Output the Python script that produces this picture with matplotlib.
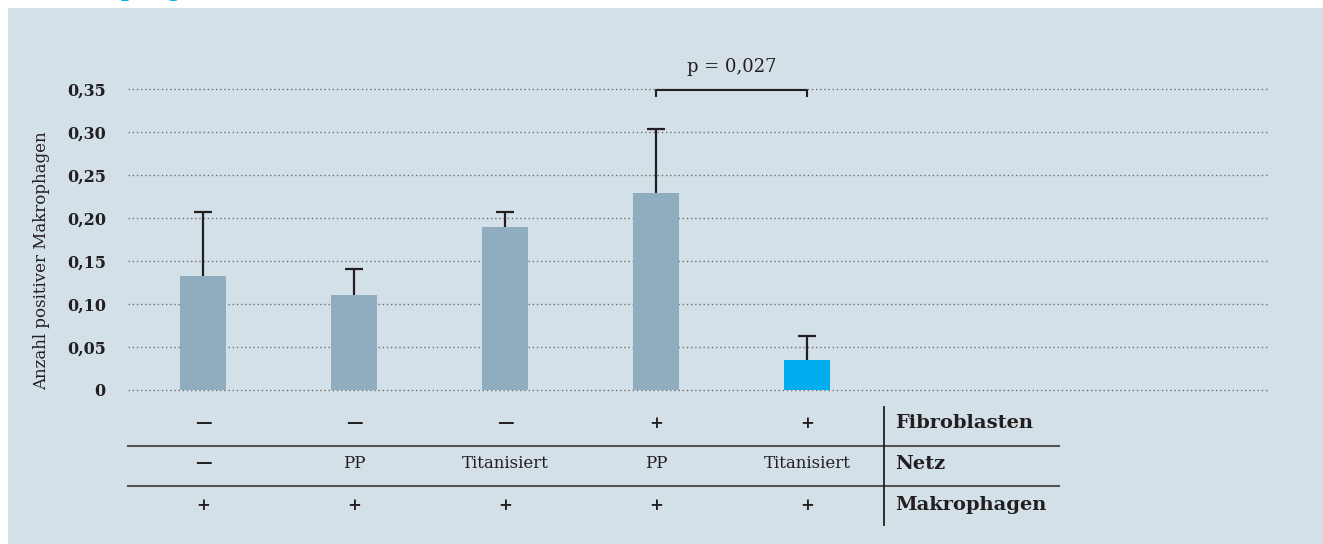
import matplotlib
matplotlib.use("Agg")
import matplotlib.pyplot as plt
import matplotlib.transforms as mtransforms

# data
groups = ["1", "2", "3", "4", "5"]
means = [0.133, 0.110, 0.190, 0.229, 0.035]
sd_upper = [0.074, 0.031, 0.017, 0.075, 0.028]
fibroblasten = ["—", "—", "—", "+", "+"]
netz = ["—", "PP", "Titanisiert", "PP", "Titanisiert"]
makrophagen = ["+", "+", "+", "+", "+"]
row_labels = ["Fibroblasten", "Netz", "Makrophagen"]
yticks = [0, 0.05, 0.10, 0.15, 0.20, 0.25, 0.30, 0.35]
p_text = "p = 0,027"

W, H = 1323, 544
bg = "#d3e0e8"
bar_grey = "#8fadbf"
bar_cyan = "#00aeef"
ink = "#231f20"

plt.rcParams["font.family"] = ["DejaVu Serif"]

fig = plt.figure(figsize=(W / 100, H / 100), dpi=100)
fig.patch.set_facecolor("white")
# light panel behind the chart
fig.patches.append(plt.Rectangle((8 / W, 0), 1 - 8 / W, 1 - 8 / H, transform=fig.transFigure,
                                 facecolor=bg, edgecolor="none", zorder=-10))

# title, cut off at the top edge like in the reference
fig.text(40 / W, 1 + 4 / H, "Makrophagen (n = 5)", color=bar_cyan, fontsize=16,
         fontweight="bold", ha="left", va="baseline")

x0, x1, y0, y1 = 128, 1268, 89, 390
ax = fig.add_axes([x0 / W, (H - y1) / H, (x1 - x0) / W, (y1 - y0) / H])
ax.set_facecolor("none")
step = 151
first = 203
ax.set_xlim(-(first - x0) / step, (x1 - first) / step)
ax.set_ylim(0, 0.35)

xs = list(range(len(groups)))
colors = [bar_grey, bar_grey, bar_grey, bar_grey, bar_cyan]
ax.bar(xs, means, width=46 / step, color=colors, zorder=2)

# upper error bars only (stem + cap)
tops = [m + e for m, e in zip(means, sd_upper)]
cap = 9 / step
ax.vlines(xs, means, tops, color=ink, linewidth=1.6, zorder=3)
ax.hlines(tops, [x - cap for x in xs], [x + cap for x in xs], color=ink, linewidth=1.6,
          zorder=3)

for t in yticks:
    ax.axhline(t, color="#6f6f6f", linewidth=1.0, linestyle=(0, (1, 2)), zorder=1,
               clip_on=False)
ax.set_yticks(yticks)
ax.set_yticklabels(["0" if t == 0 else f"{t:.2f}".replace(".", ",") for t in yticks],
                   fontsize=11.5, fontweight="bold", color=ink)
ax.tick_params(axis="y", length=0, pad=16)
ax.set_xticks([])
for s in ax.spines.values():
    s.set_visible(False)
ax.set_ylabel("Anzahl positiver Makrophagen", fontsize=12, color=ink)
ax.yaxis.set_label_coords(-0.068, 0.43)

# significance bracket
yb = 0.349
ax.plot([3, 3, 4, 4], [yb - 0.007, yb, yb, yb - 0.007], color=ink, linewidth=1.5,
        clip_on=False)
ax.text(3.5, yb + 0.016, p_text, ha="center", va="bottom", fontsize=13, color=ink)

# table under the bars
tr = mtransforms.blended_transform_factory(ax.transData, fig.transFigure)
xl = -(first - x0) / step
xr = (1059 - first) / step
xv = (884 - first) / step
xlab = (895 - first) / step
row_y = [(H - 423) / H, (H - 464) / H, (H - 505) / H]
for rows, y in zip([fibroblasten, netz, makrophagen], row_y):
    for x, s in zip(xs, rows):
        ax.text(x, y, s, transform=tr, ha="center", va="center", fontsize=12, color=ink,
                fontweight="bold" if s in ("—", "+") else "normal")
for lab, y in zip(row_labels, row_y):
    ax.text(xlab, y, lab, transform=tr, ha="left", va="center", fontsize=14,
            fontweight="bold", color=ink)
for yl in [(H - 446) / H, (H - 486) / H]:
    ax.plot([xl, xr], [yl, yl], transform=tr, color="#555555", linewidth=1.5, clip_on=False)
ax.plot([xv, xv], [(H - 407) / H, (H - 525) / H], transform=tr, color=ink, linewidth=1.3,
        clip_on=False)

fig.savefig("out.png", dpi=100, facecolor=fig.get_facecolor())
